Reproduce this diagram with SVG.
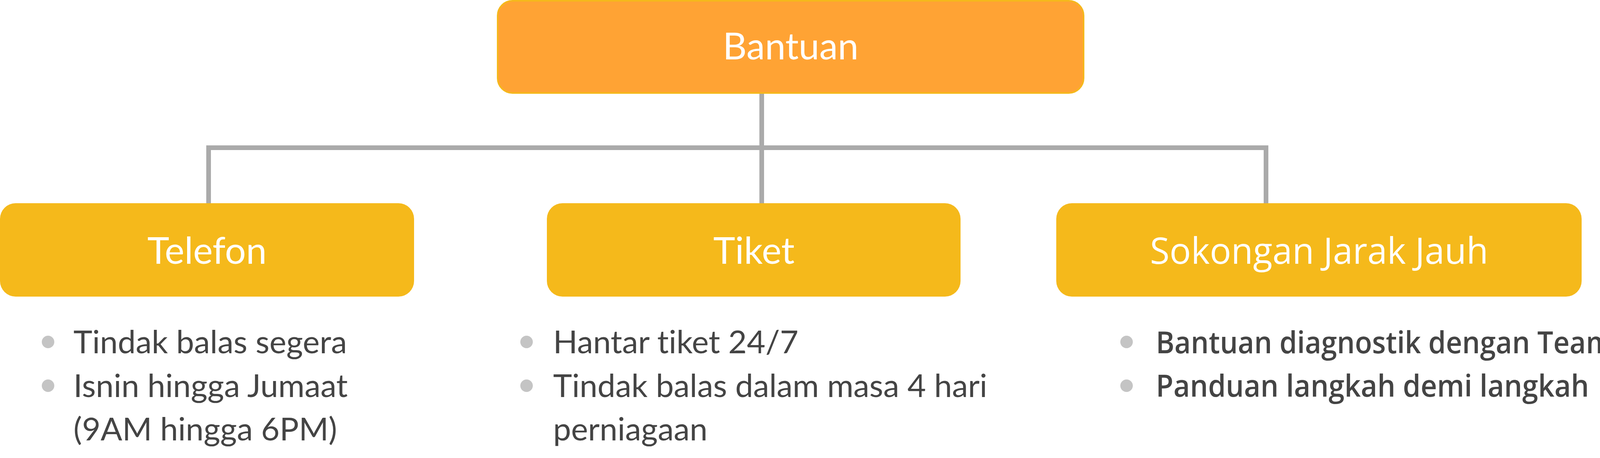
<svg xmlns="http://www.w3.org/2000/svg" width="4176" height="1172" viewBox="0 0 4176 1172">
<style>
.root{fill:#FFA334;stroke:#F5B81C;stroke-width:4}
.child{fill:#F5B91B}
.conn{stroke:#AAAAAA;stroke-width:12;fill:none}
text{font-variant-ligatures:none}
.h{font-family:Lato,"Noto Sans",sans-serif;font-size:95px;fill:#FFFFFF;text-anchor:middle}
.hs{font-family:"Open Sans","Noto Sans",sans-serif;font-size:94px;fill:#FFFFFF;text-anchor:middle}
.b{font-family:Lato,"Noto Sans",sans-serif;font-size:82px;fill:#444444}
.bs{font-family:"Open Sans","Noto Sans",sans-serif;font-size:78px;font-weight:600;fill:#444444}
.dot{fill:#C4C4C4}
</style>
<rect width="4176" height="1172" fill="#FFFFFF"/>
<g id="connectors">
<path class="conn" d="M1950 240 V520"/>
<path class="conn" d="M534 520 V378 H3241 V520"/>
</g>
<g id="bantuan">
<rect class="root" x="1274" y="2" width="1500" height="236" rx="38"/>
<text class="h" x="2024" y="152">Bantuan</text>
</g>
<g id="telefon">
<rect class="child" x="0" y="520" width="1060" height="239" rx="40"/>
<text class="h" x="530" y="675">Telefon</text>
<circle class="dot" cx="123" cy="875" r="16"/>
<circle class="dot" cx="123" cy="987" r="16"/>
<text class="b" x="188" y="904">Tindak balas segera</text>
<text class="b" x="188" y="1016">Isnin hingga Jumaat</text>
<text class="b" x="188" y="1127">(9AM hingga 6PM)</text>
</g>
<g id="tiket">
<rect class="child" x="1400" y="520" width="1059" height="239" rx="40"/>
<text class="h" x="1930" y="675">Tiket</text>
<circle class="dot" cx="1348" cy="875" r="16"/>
<circle class="dot" cx="1348" cy="987" r="16"/>
<text class="b" x="1416" y="904">Hantar tiket 24/7</text>
<text class="b" x="1416" y="1016">Tindak balas dalam masa 4 hari</text>
<text class="b" x="1416" y="1127">perniagaan</text>
</g>
<g id="sokongan">
<rect class="child" x="2704" y="520" width="1345" height="239" rx="40"/>
<text class="hs" x="3377" y="675" textLength="866" lengthAdjust="spacingAndGlyphs">Sokongan Jarak Jauh</text>
<circle class="dot" cx="2884" cy="875" r="16"/>
<circle class="dot" cx="2884" cy="987" r="16"/>
<text class="bs" x="2959" y="904" textLength="1205" lengthAdjust="spacingAndGlyphs">Bantuan diagnostik dengan Teams</text>
<text class="bs" x="2959" y="1015" textLength="1109" lengthAdjust="spacingAndGlyphs">Panduan langkah demi langkah</text>
</g>
</svg>
